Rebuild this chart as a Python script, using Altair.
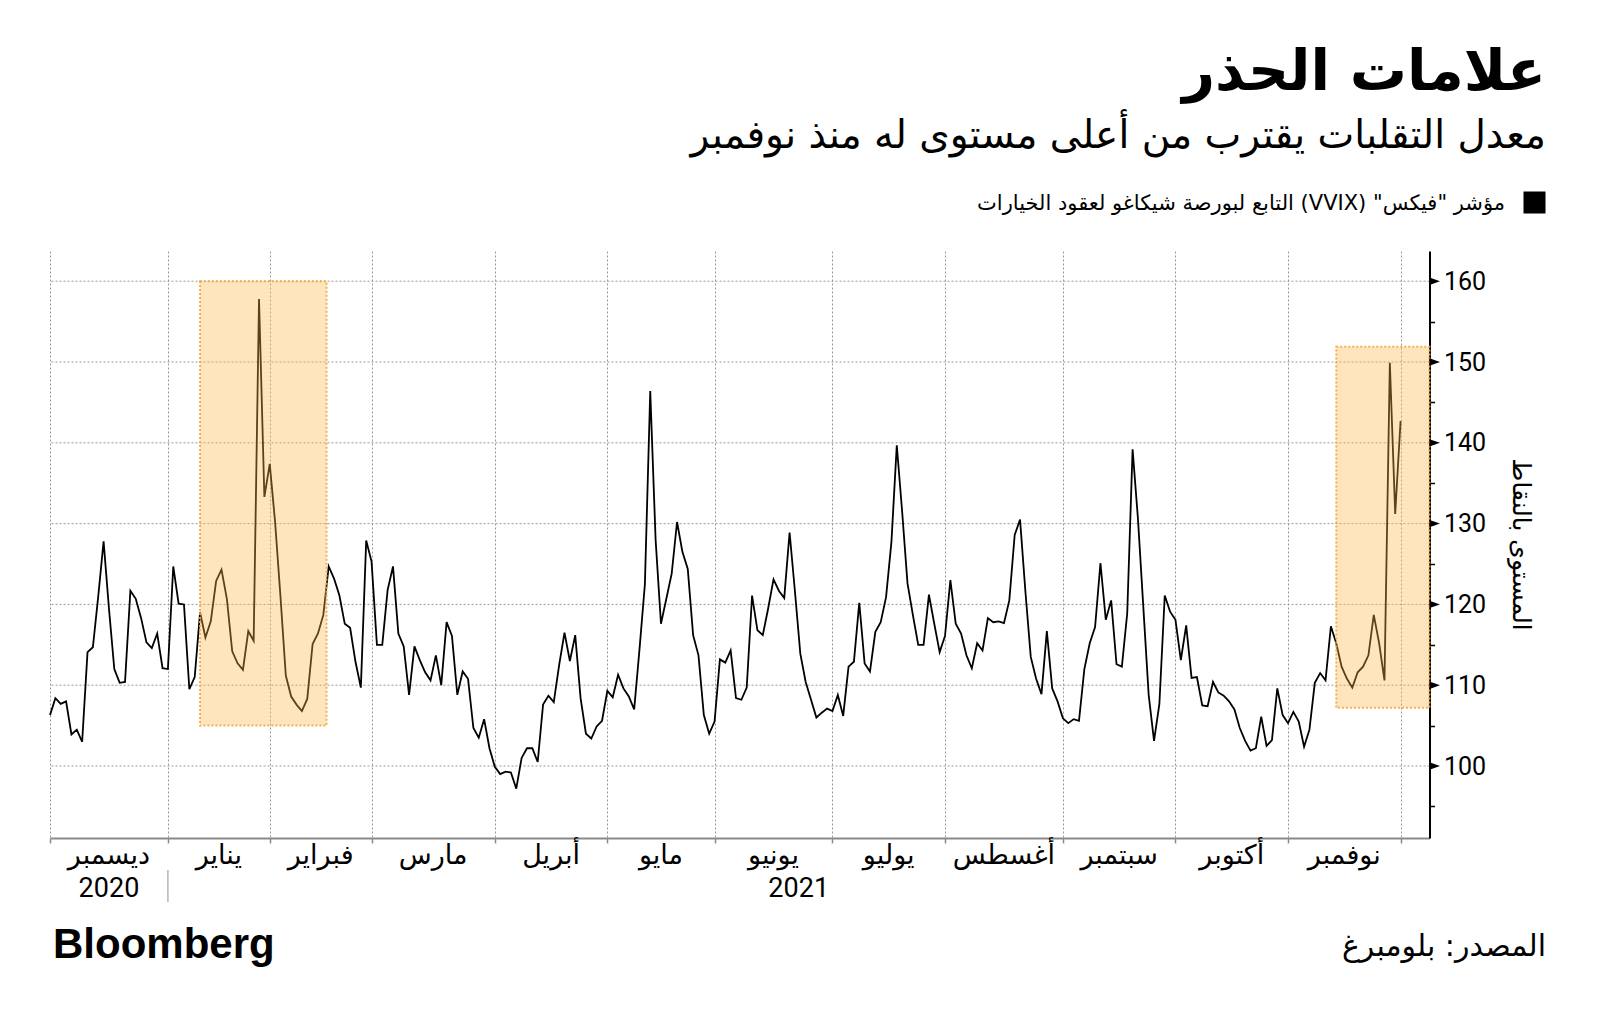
import altair as alt
import pandas as pd

# ---------------- data ----------------
values = [
    106.3, 108.4, 107.7, 108.0, 103.9, 104.5, 103.0, 114.1, 114.7, 121.0,
    127.8, 119.5, 112.0, 110.3, 110.4, 121.7, 120.7, 118.3, 115.3, 114.6,
    116.4, 112.1, 112.0, 124.7, 120.1, 120.0, 109.5, 111.0, 119.0, 115.9,
    117.9, 122.9, 124.3, 120.7, 114.2, 112.7, 111.9, 116.7, 115.5, 157.8,
    133.3, 137.4, 130.2, 121.0, 111.2, 108.6, 107.6, 106.8, 108.3, 115.1,
    116.4, 118.7, 124.7, 123.2, 121.1, 117.6, 117.1, 112.9, 109.7, 127.9,
    125.3, 115.0, 115.0, 121.8, 124.7, 116.4, 114.8, 108.8, 114.8, 113.1,
    111.6, 110.6, 113.7, 110.0, 117.8, 116.1, 108.8, 111.7, 110.8, 104.7,
    103.5, 105.8, 102.2, 99.9, 99.0, 99.3, 99.2, 97.2, 101.0, 102.2,
    102.2, 100.5, 107.6, 108.7, 107.9, 112.5, 116.5, 113.0, 116.2, 108.4,
    104.0, 103.4, 104.9, 105.6, 109.3, 108.5, 111.3, 109.6, 108.6, 107.0,
    114.5, 122.5, 146.4, 128.0, 117.6, 120.7, 123.8, 130.2, 126.5, 124.4,
    116.2, 113.7, 106.3, 104.0, 105.5, 113.2, 112.8, 114.3, 108.4, 108.2,
    109.7, 121.1, 116.8, 116.2, 119.5, 123.1, 121.7, 120.8, 128.9, 121.6,
    113.9, 110.4, 108.2, 106.0, 106.6, 107.1, 106.8, 108.8, 106.2, 112.3,
    112.9, 120.2, 112.7, 111.7, 116.6, 117.8, 120.9, 127.7, 139.7, 131.5,
    122.6, 118.7, 115.0, 115.0, 121.2, 117.6, 114.1, 116.1, 123.0, 117.6,
    116.4, 113.7, 112.1, 115.2, 114.3, 118.3, 117.8, 117.9, 117.7, 120.5,
    128.6, 130.5, 121.6, 113.5, 110.8, 108.9, 116.7, 109.6, 108.0, 105.9,
    105.3, 105.8, 105.6, 112.0, 115.2, 117.2, 125.1, 118.1, 120.5, 112.6,
    112.3, 118.9, 139.2, 130.6, 119.7, 108.8, 103.1, 107.7, 121.1, 119.1,
    118.1, 113.1, 117.4, 110.9, 111.0, 107.5, 107.4, 110.4, 109.1, 108.7,
    108.0, 107.0, 104.7, 103.1, 101.9, 102.2, 106.1, 102.5, 103.2, 109.6,
    106.3, 105.3, 106.7, 105.5, 102.4, 104.5, 110.3, 111.5, 110.6, 117.3,
    115.2, 112.3, 110.8, 109.7, 111.6, 112.3, 113.7, 118.7, 115.2, 110.6,
    149.9, 131.2, 142.7,
]

# trading-day index of the first session of each month (Dec 2020 .. Dec 2021)
month_starts = [0, 22, 41, 60, 83, 104, 124, 146, 167, 189, 210, 231, 252]
month_names = ["ديسمبر", "يناير", "فبراير", "مارس", "أبريل", "مايو",
               "يونيو", "يوليو", "أغسطس", "سبتمبر", "أكتوبر", "نوفمبر"]
year_labels = ["2020", "2021"]
year_starts = [0, 22]

y_grid = [100, 110, 120, 130, 140, 150, 160]
y_ticks = [95, 100, 105, 110, 115, 120, 125, 130, 135, 140, 145, 150, 155, 160]

hl_x0 = [28.0, 240.0]
hl_x1 = [51.6, 257.4]
hl_y0 = [105.0, 107.2]
hl_y1 = [160.0, 151.9]

title_text = "علامات الحذر"
subtitle_text = "معدل التقلبات يقترب من أعلى مستوى له منذ نوفمبر"
legend_text = "\u202b" + 'مؤشر "فيكس" (VVIX) التابع لبورصة شيكاغو لعقود الخيارات' + "\u202c"
y_title = "المستوى بالنقاط"
source_text = "المصدر: بلومبرغ"
brand_text = "Bloomberg"

# ---------------- layout ----------------
X_MAX = 257.4
Y_MIN, Y_MAX = 91.09, 163.74
W, H = 1379.5, 587
AR = "DejaVu Sans"
NUM = "Roboto"
GRID = "#9a9a9a"

xs = alt.Scale(domain=[0, X_MAX], nice=False, zero=False)
ys = alt.Scale(domain=[Y_MIN, Y_MAX], nice=False, zero=False)

x_axis = alt.Axis(
    values=month_starts, labels=False, title=None, grid=True,
    gridColor=GRID, gridDash=[2, 2], gridWidth=1,
    domainColor="#8a8a8a", domainWidth=2,
    tickColor="#8a8a8a", tickSize=5, tickWidth=1.5)
y_axis = alt.Axis(
    orient="right", values=y_ticks,
    labelExpr="datum.value % 10 == 0 ? datum.label : ''",
    grid=False, title=None, domainColor="black", domainWidth=2,
    tickColor="black", tickSize=5, tickWidth=1.5,
    labelFont=NUM, labelFontSize=25, labelColor="black", labelPadding=9)

df = pd.DataFrame({"i": list(range(len(values))), "v": values})

hgrid = alt.Chart(pd.DataFrame({"g": y_grid})).mark_rule(
    color=GRID, strokeDash=[2, 2], strokeWidth=1
).encode(y=alt.Y("g:Q", scale=ys, axis=y_axis))

line = alt.Chart(df).mark_line(color="black", strokeWidth=1.8).encode(
    x=alt.X("i:Q", scale=xs, axis=x_axis),
    y=alt.Y("v:Q", scale=ys, axis=y_axis),
)

hdf = pd.DataFrame({"x0": hl_x0, "x1": hl_x1, "y0": hl_y0, "y1": hl_y1})
highlight = alt.Chart(hdf).mark_rect(
    fill="#FDB849", fillOpacity=0.36, stroke="#F4A93A", strokeOpacity=0.9,
    strokeDash=[2, 2], strokeWidth=2
).encode(
    x=alt.X("x0:Q", scale=xs, axis=x_axis), x2="x1:Q",
    y=alt.Y("y0:Q", scale=ys, axis=y_axis), y2="y1:Q",
)

tri = alt.Chart(pd.DataFrame({"g": y_grid})).mark_point(
    shape="M0,-0.7L2,0L0,0.7Z", filled=True, fill="black", size=110,
    strokeWidth=0, opacity=1
).encode(x=alt.value(W), y=alt.Y("g:Q", scale=ys, axis=y_axis))

mdf = pd.DataFrame({
    "c": [(month_starts[k] + month_starts[k + 1]) / 2 for k in range(len(month_names))],
    "name": month_names,
})
months = alt.Chart(mdf).mark_text(
    font=AR, fontSize=27, align="center", baseline="alphabetic", color="black"
).encode(x=alt.X("c:Q", scale=xs, axis=x_axis), y=alt.value(613), text="name:N")

ydf = pd.DataFrame({
    "c": [(year_starts[0] + year_starts[1]) / 2, (year_starts[1] + X_MAX) / 2],
    "name": year_labels,
})
years = alt.Chart(ydf).mark_text(
    font=NUM, fontSize=27, align="center", baseline="alphabetic", color="black"
).encode(x=alt.X("c:Q", scale=xs, axis=x_axis), y=alt.value(646), text="name:N")

sep = alt.Chart(pd.DataFrame({"s": [year_starts[1]]})).mark_rule(
    color="#b5b5b5", strokeWidth=1.5
).encode(x=alt.X("s:Q", scale=xs, axis=x_axis), y=alt.value(619), y2=alt.value(651))


def txt(s, x, y, size, align="right", weight="normal", font=AR, angle=0, baseline="alphabetic"):
    return alt.Chart(alt.Data(values=[{"a": 1}])).mark_text(
        text=s, align=align, baseline=baseline, fontSize=size,
        fontWeight=weight, font=font, angle=angle, color="black"
    ).encode(x=alt.value(x), y=alt.value(y))


title = txt(title_text, 1496, -161, 57, weight="bold")
subtitle = txt(subtitle_text, 1496, -103, 39)
legend_label = txt(legend_text, 1455, -41, 21)
legend_box = alt.Chart(alt.Data(values=[{"a": 1}])).mark_square(
    size=484, color="black", opacity=1
).encode(x=alt.value(1484.5), y=alt.value(-48.5))
ytitle = txt(y_title, 1471, 293.5, 25, align="center", angle=90, baseline="middle")
brand = txt(brand_text, 3, 707, 42, align="left", weight="bold", font="Liberation Sans")
source = txt(source_text, 1496, 705, 30)

chart = alt.layer(
    hgrid, line, highlight, tri, months, years, sep,
    title, subtitle, legend_label, legend_box, ytitle, brand, source
).properties(
    width=W, height=H,
    padding={"left": 50, "top": 251, "right": 1600 - 50 - W, "bottom": 1025 - 251 - H},
    autosize=alt.AutoSizeParams(type="none"),
    background="white",
).configure_view(stroke=None)

chart.save("out.html", embed_options={"renderer": "svg", "actions": False})
